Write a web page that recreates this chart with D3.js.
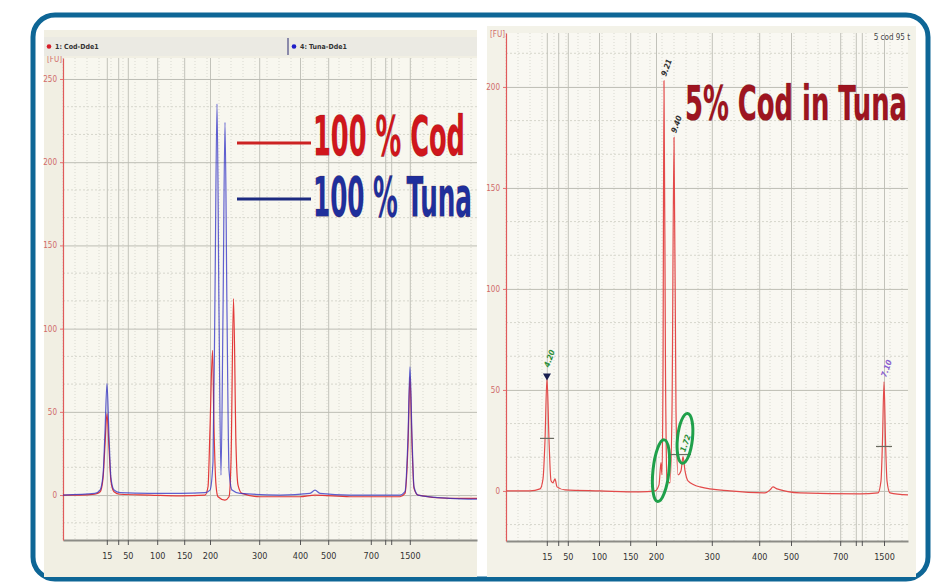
<!DOCTYPE html>
<html>
<head>
<meta charset="utf-8">
<script src="https://cdnjs.cloudflare.com/ajax/libs/d3/7.8.5/d3.min.js"></script>
<style>
body { margin: 0; background: #fff; }
svg { display: block; }
.narrow { font-family: 'Liberation Sans Narrow', 'DejaVu Sans Condensed', 'Liberation Sans', sans-serif; }
</style>
</head>
<body>
<svg width="931" height="582"></svg>
<script>
var svg = d3.select('svg');

// DNA 1000 ladder bands on the x axis
var ladderSizes = [15, 25, 50, 100, 150, 200, 300, 400, 500, 700, 850, 1000, 1500];
var ladderLabels = ['15', '', '50', '100', '150', '200', '300', '400', '500', '700', '', '', '1500'];
// migration time (s) of each band, one list per run
var ladderTimeLeft = [27.3, 29.2, 30.8, 35.7, 40.2, 44.5, 52.7, 59.5, 64.2, 71.3, 73.7, 74.7, 77.8];
var ladderTimeRight = [26.8, 28.7, 30.3, 35.5, 40.7, 45.0, 54.3, 62.2, 67.5, 75.7, 78.3, 79.3, 83.0];

var fuTicksLeft = [0, 50, 100, 150, 200, 250];
var fuTicksRight = [0, 50, 100, 150, 200];

// traces: [time s, FU]
var codTrace = [[20.0, 0], [22.8, 0], [25.3, 0.5], [26.2, 2], [26.67, 10], [27.0, 30], [27.33, 49], [27.67, 28],
    [28.0, 8], [28.5, 2], [29.5, 0.5], [34.5, 0], [39.5, -0.5], [43.67, 0], [44.17, 5], [44.5, 40], [44.92, 87],
    [45.17, 40], [45.5, 6], [45.83, -1], [47.0, -3], [47.67, -1], [48.0, 20], [48.42, 118], [48.83, 30],
    [49.17, 6], [49.83, 1], [52.83, -1], [59.5, -1], [62.0, 0], [67.83, -1], [76.17, -1], [77.0, 1], [77.5, 30],
    [77.83, 71], [78.17, 30], [78.5, 4], [79.17, 0], [84.5, -2], [89.0, -2]];

var tunaTrace = [[20.0, 0], [25.3, 1], [26.17, 3], [26.67, 12], [27.0, 38], [27.33, 67], [27.67, 35], [28.0, 10],
    [28.5, 3], [29.5, 1.5], [34.5, 1], [39.5, 1], [43.67, 1.5], [44.5, 3], [45.0, 20], [45.33, 120], [45.67, 235],
    [46.0, 110], [46.33, 12], [46.67, 110], [47.0, 224], [47.33, 110], [47.67, 15], [48.17, 3], [49.5, 1],
    [56.17, 0], [61.17, 1], [62.0, 3], [62.83, 1], [67.83, 0], [76.17, 0], [77.0, 2], [77.5, 35], [77.83, 77],
    [78.17, 35], [78.5, 5], [79.17, 0], [84.5, -2], [89.0, -2.5]];

var mixTrace = [[20.0, 0], [24.0, 0], [25.67, 1], [26.17, 6], [26.5, 25], [26.83, 56], [27.17, 25], [27.5, 5],
    [27.83, 4], [28.17, 6], [28.5, 2], [29.83, 0.5], [35.67, 0], [42.33, -0.5], [44.83, 0], [45.5, 3],
    [45.83, 14], [46.0, 8], [46.17, 60], [46.33, 203], [46.58, 60], [46.83, 6], [47.33, 4], [47.67, 40],
    [48.0, 175], [48.33, 40], [48.67, 8], [49.17, 10], [49.5, 17], [49.83, 10], [50.33, 5], [52.33, 2],
    [57.33, 0], [63.17, -1], [64.0, 0.5], [64.5, 2], [65.17, 1], [69.0, -1], [79.0, -1.5], [82.0, -1],
    [82.5, 5], [82.75, 25], [83.0, 54], [83.25, 25], [83.5, 5], [84.0, -1], [87.0, -2]];

var mixPeaks = [
    {t: 26.83, fu: 56, label: '4.20', color: '#2f8f3a', marker: true},
    {t: 46.33, fu: 203, label: '9.21', color: '#333333'},
    {t: 48.0, fu: 175, label: '9.40', color: '#333333'},
    {t: 49.5, fu: 17, label: '1.72', color: '#2f8f3a'},
    {t: 83.0, fu: 54, label: '7.10', color: '#8a60d0'}
];
// half height width bars
var halfMarks = [{t0: 25.67, t1: 28.0, fu: 26}, {t0: 47.0, t1: 50.83, fu: 18}, {t0: 81.67, t1: 84.33, fu: 22}];
// minor peaks circled in green
var circled = [{t: 45.83, fu: 10, rx: 8, ry: 31}, {t: 49.83, fu: 26, rx: 7.5, ry: 25}];

var fontNarrow = "'Liberation Sans Narrow', 'DejaVu Sans Condensed', 'Liberation Sans', sans-serif";

// outer frame
svg.append('rect')
    .attr('x', 33).attr('y', 15)
    .attr('width', 895).attr('height', 564)
    .attr('rx', 22)
    .attr('fill', 'none')
    .attr('stroke', '#0e6696')
    .attr('stroke-width', 5);

function drawPanel(p) {
    var g = svg.append('g');

    g.append('rect')
        .attr('x', p.box[0]).attr('y', p.box[1])
        .attr('width', p.box[2]).attr('height', p.box[3])
        .attr('fill', p.bg);

    var x = d3.scaleLinear().domain(p.tDomain).range([p.l, p.r]);
    var y = d3.scaleLinear().domain(p.fuDomain).range([p.b, p.t]);

    g.append('rect')
        .attr('x', p.l).attr('y', p.t)
        .attr('width', p.r - p.l).attr('height', p.b - p.t)
        .attr('fill', p.plotBg);

    // faint dotted grid
    var vMinor = d3.range(Math.ceil(p.tDomain[0]), p.tDomain[1], 2);
    g.append('g').selectAll('line')
        .data(vMinor)
        .enter()
        .append('line')
        .attr('x1', function(d) { return x(d); })
        .attr('x2', function(d) { return x(d); })
        .attr('y1', p.t).attr('y2', p.b)
        .attr('stroke', '#d9d9d0')
        .attr('stroke-dasharray', '1,2');

    var hMinor = d3.range(-1, 16).filter(function(i) { return i % 3 !== 0; })
        .map(function(i) { return i * 50 / 3; })
        .filter(function(v) { return v > p.fuDomain[0] && v < p.fuDomain[1]; });
    g.append('g').selectAll('line')
        .data(hMinor)
        .enter()
        .append('line')
        .attr('x1', p.l).attr('x2', p.r)
        .attr('y1', function(d) { return y(d); })
        .attr('y2', function(d) { return y(d); })
        .attr('stroke', '#d6d6cc')
        .attr('stroke-dasharray', '2,2');

    // ladder grid
    var xGrid = d3.axisBottom(x)
        .tickValues(p.ladder)
        .tickSize(-(p.b - p.t))
        .tickSizeOuter(0)
        .tickFormat('');
    var xg = g.append('g')
        .attr('transform', 'translate(0,' + p.b + ')')
        .call(xGrid);
    xg.select('.domain').remove();
    xg.selectAll('line').attr('stroke', '#c2c2ba');

    var yGrid = d3.axisLeft(y)
        .tickValues(p.fuTicks)
        .tickSize(-(p.r - p.l))
        .tickFormat('');
    var yg = g.append('g')
        .attr('transform', 'translate(' + p.l + ',0)')
        .call(yGrid);
    yg.select('.domain').remove();
    yg.selectAll('line').attr('stroke', '#bdbdb4');

    // axes
    var xAx = d3.axisBottom(x)
        .tickValues(p.ladder)
        .tickSize(5)
        .tickSizeOuter(0)
        .tickFormat(function(d, i) { return ladderLabels[i]; });
    var xa = g.append('g')
        .attr('transform', 'translate(0,' + p.b + ')')
        .call(xAx);
    xa.select('.domain').attr('stroke', '#8c8c86').attr('stroke-width', 2);
    xa.selectAll('line').attr('stroke', '#555');
    xa.selectAll('text')
        .attr('font-family', fontNarrow)
        .attr('font-size', 9)
        .attr('fill', '#333')
        .attr('dy', '1.2em');

    var yAx = d3.axisLeft(y)
        .tickValues(p.fuTicks)
        .tickSize(3)
        .tickSizeOuter(0);
    var ya = g.append('g')
        .attr('transform', 'translate(' + p.l + ',0)')
        .call(yAx);
    ya.select('.domain').attr('stroke', '#e05a5a').attr('stroke-width', 1.2);
    ya.selectAll('line').attr('stroke', '#e07070');
    ya.selectAll('text')
        .attr('font-family', fontNarrow)
        .attr('font-size', 8)
        .attr('fill', '#d06a6a');

    g.append('text')
        .attr('x', p.l - 16).attr('y', p.t + 4)
        .attr('font-family', fontNarrow)
        .attr('font-size', 8)
        .attr('fill', '#d06a6a')
        .text('[FU]');

    var line = d3.line()
        .x(function(d) { return x(d[0]); })
        .y(function(d) { return y(d[1]); })
        .curve(d3.curveMonotoneX);

    p.traces.forEach(function(tr) {
        g.append('path')
            .datum(tr.data)
            .attr('d', line)
            .attr('fill', 'none')
            .attr('stroke', tr.color)
            .attr('stroke-width', 1.2)
            .attr('stroke-opacity', tr.opacity);
    });

    return {g: g, x: x, y: y};
}

// left panel: 100 % cod vs 100 % tuna
var left = drawPanel({
    box: [44, 30, 433, 547], bg: '#f1efe3', plotBg: '#f8f7ef',
    l: 63, r: 477, t: 58, b: 540,
    tDomain: [20, 89], fuDomain: [-27, 262.6],
    ladder: ladderTimeLeft, fuTicks: fuTicksLeft,
    traces: [
        {data: codTrace, color: '#e23a3a', opacity: 1},
        {data: tunaTrace, color: '#2d2dc4', opacity: 0.75}
    ]
});

// legend bar
left.g.append('rect')
    .attr('x', 44).attr('y', 37).attr('width', 433).attr('height', 19)
    .attr('fill', '#ebeae3');
left.g.append('line')
    .attr('x1', 288).attr('x2', 288).attr('y1', 38).attr('y2', 55)
    .attr('stroke', '#2a2a70');
var runs = [{name: '1: Cod-Dde1', color: '#d81e2a', x: 49}, {name: '4: Tuna-Dde1', color: '#1e1ec8', x: 294}];
runs.forEach(function(r) {
    left.g.append('circle').attr('cx', r.x).attr('cy', 46.5).attr('r', 2.3).attr('fill', r.color);
    left.g.append('text')
        .attr('x', r.x + 6).attr('y', 49)
        .attr('font-family', fontNarrow).attr('font-size', 7).attr('font-weight', 'bold')
        .attr('fill', '#333')
        .text(r.name);
});

// big legend
var bigLegend = [{text: '100 % Cod', color: '#d0161c', line: '#cc2222', y: 143, base: 155, w: 152},
                 {text: '100 % Tuna', color: '#1f2f9c', line: '#1c2a80', y: 199, base: 216, w: 159}];
bigLegend.forEach(function(b) {
    left.g.append('line')
        .attr('x1', 237).attr('x2', 311).attr('y1', b.y).attr('y2', b.y)
        .attr('stroke', b.line).attr('stroke-width', 3);
    left.g.append('text')
        .attr('x', 313).attr('y', b.base)
        .attr('font-family', fontNarrow).attr('font-size', 55).attr('font-weight', 'bold')
        .attr('fill', b.color)
        .attr('stroke', '#4a0a0a').attr('stroke-width', 0.6).attr('stroke-opacity', 0.4)
        .attr('textLength', b.w).attr('lengthAdjust', 'spacingAndGlyphs')
        .text(b.text);
});

// right panel: 5 % cod in tuna
var right = drawPanel({
    box: [487, 26, 429, 551], bg: '#f3f2e8', plotBg: '#f9f8f2',
    l: 506, r: 908, t: 33, b: 541,
    tDomain: [20, 87], fuDomain: [-24.8, 226.7],
    ladder: ladderTimeRight, fuTicks: fuTicksRight,
    traces: [{data: mixTrace, color: '#e34a4a', opacity: 1}]
});

right.g.append('text')
    .attr('x', 910).attr('y', 40)
    .attr('text-anchor', 'end')
    .attr('font-family', fontNarrow).attr('font-size', 8)
    .attr('fill', '#444')
    .text('5 cod 95 t');

right.g.selectAll('.half')
    .data(halfMarks)
    .enter()
    .append('line')
    .attr('class', 'half')
    .attr('x1', function(d) { return right.x(d.t0); })
    .attr('x2', function(d) { return right.x(d.t1); })
    .attr('y1', function(d) { return right.y(d.fu); })
    .attr('y2', function(d) { return right.y(d.fu); })
    .attr('stroke', '#6a6a60')
    .attr('stroke-width', 1.2);

mixPeaks.forEach(function(pk) {
    var px = right.x(pk.t), py = right.y(pk.fu);
    if (pk.marker) {
        right.g.append('path')
            .attr('d', d3.symbol().type(d3.symbolTriangle).size(28)())
            .attr('transform', 'translate(' + px + ',' + (py - 2) + ') rotate(180)')
            .attr('fill', '#1a2050');
    }
    var off = pk.marker ? 10 : 4;
    right.g.append('text')
        .attr('transform', 'translate(' + (px + 2) + ',' + (py - off) + ') rotate(-70)')
        .attr('font-family', fontNarrow).attr('font-size', 8).attr('font-weight', 'bold')
        .attr('font-style', 'italic')
        .attr('fill', pk.color)
        .text(pk.label);
});

right.g.selectAll('.ring')
    .data(circled)
    .enter()
    .append('ellipse')
    .attr('class', 'ring')
    .attr('cx', function(d) { return right.x(d.t); })
    .attr('cy', function(d) { return right.y(d.fu); })
    .attr('rx', function(d) { return d.rx; })
    .attr('ry', function(d) { return d.ry; })
    .attr('transform', function(d) {
        return 'rotate(6,' + right.x(d.t) + ',' + right.y(d.fu) + ')';
    })
    .attr('fill', 'none')
    .attr('stroke', '#1fa04a')
    .attr('stroke-width', 3);

right.g.append('text')
    .attr('x', 685).attr('y', 120)
    .attr('font-family', fontNarrow).attr('font-size', 48).attr('font-weight', 'bold')
    .attr('fill', '#9e1420')
    .attr('stroke', '#4a0a0a').attr('stroke-width', 0.6).attr('stroke-opacity', 0.4)
    .attr('textLength', 222).attr('lengthAdjust', 'spacingAndGlyphs')
    .text('5% Cod in Tuna');
</script>
</body>
</html>
